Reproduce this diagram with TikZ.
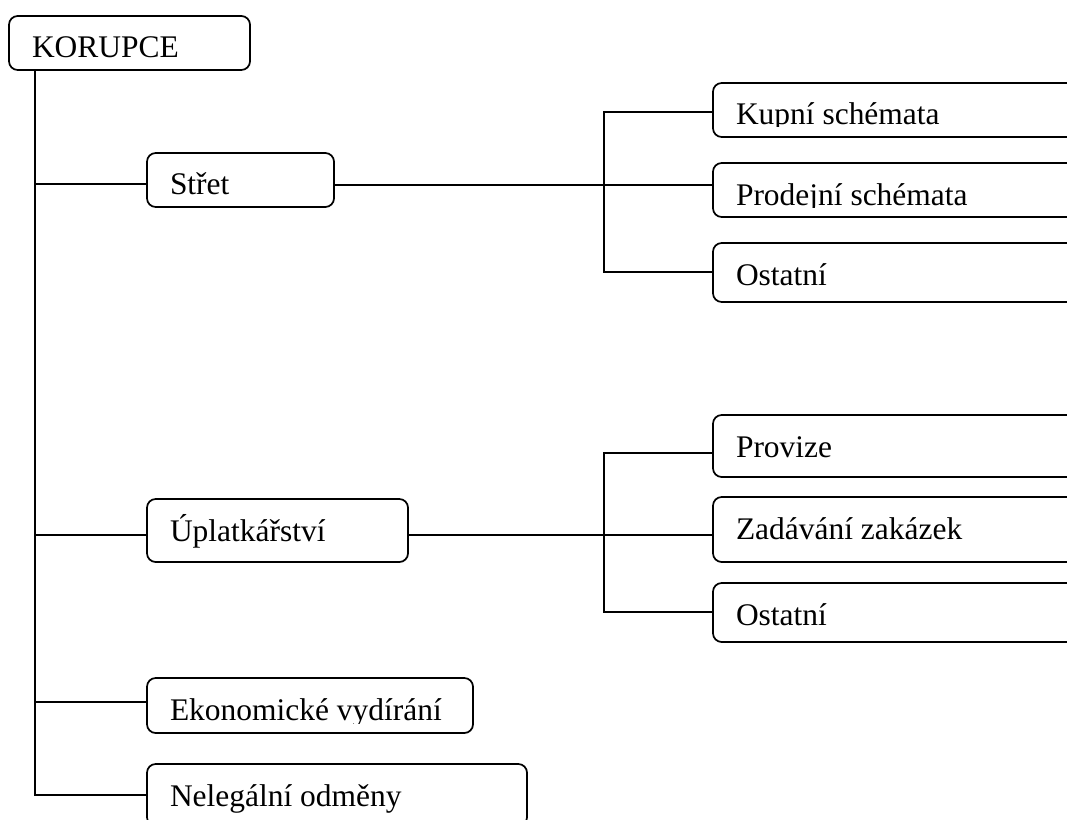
\documentclass[tikz,border=0pt]{standalone}
\usepackage{fontspec}
\setmainfont{Liberation Serif}
\tikzset{
  box/.style={draw, line width=1.3pt, rounded corners=6.5pt, inner sep=0pt, outer sep=0pt},
  txt/.style={anchor=base west, inner sep=0pt, outer sep=0pt, font=\fontsize{23.6}{28}\selectfont},
  conn/.style={line width=1.3pt}
}
\newcommand\bx[5]{\node[box, minimum width={(#4-#2)*0.75pt}, minimum height={(#5-#3)*0.75pt}] (#1) at ({(#2+#4)/2},{(#3+#5)/2}) {};}
\newcommand\boxtext[2]{\begin{scope}\clip (#1.north west) rectangle ([yshift=7.5pt]#1.south east);
  \node[txt] (#1t) at ([xshift=17.25pt,yshift=-31.5pt]#1.north west) {#2};\end{scope}}
\begin{document}
\begin{tikzpicture}[x=0.75pt,y=-0.75pt]
\useasboundingbox (0,0) rectangle (1067,820);
\clip (0,0) rectangle (1067,820);
% boxes
\bx{kor}{9}{16}{250}{70}
\bx{stret}{147}{153}{334}{207}
\bx{upl}{147}{499}{408}{562}
\bx{eko}{147}{678}{473}{733}
\bx{nel}{147}{764}{527}{826}
\bx{kupni}{713}{83}{1100}{137}
\bx{prod}{713}{163}{1100}{217}
\bx{osta}{713}{243}{1100}{302}
\bx{prov}{713}{415}{1100}{477}
\bx{zad}{713}{497}{1100}{562}
\bx{ostb}{713}{583}{1100}{642}
% texts
\boxtext{kor}{KORUPCE}
\boxtext{stret}{Střet}
\boxtext{upl}{Úplatkářství}
\boxtext{eko}{Ekonomické vydírání}
\boxtext{nel}{Nelegální odměny}
\boxtext{kupni}{Kupní schémata}
\boxtext{prod}{Prodejní schémata}
\boxtext{osta}{Ostatní}
\boxtext{prov}{Provize}
\boxtext{zad}{Zadávání zakázek}
\boxtext{ostb}{Ostatní}
% trunk
\coordinate (tr) at (35,70);
\coordinate (r1) at (35,184);
\coordinate (r2) at (35,535);
\coordinate (r3) at (35,702);
\coordinate (r4) at (35,795);
\draw[conn] (tr) -- (r4) -- (nel.west |- r4);
\draw[conn] (r1) -- (stret.west |- r1);
\draw[conn] (r2) -- (upl.west |- r2);
\draw[conn] (r3) -- (eko.west |- r3);
% upper right group
\coordinate (ja) at (604,112);
\coordinate (jb) at (604,185);
\coordinate (jc) at (604,272);
\draw[conn] (stret.east |- jb) -- (prod.west |- jb);
\draw[conn] (kupni.west |- ja) -- (ja) -- (jc) -- (osta.west |- jc);
% lower right group
\coordinate (ka) at (604,453);
\coordinate (kb) at (604,535);
\coordinate (kc) at (604,612);
\draw[conn] (upl.east |- kb) -- (zad.west |- kb);
\draw[conn] (prov.west |- ka) -- (ka) -- (kc) -- (ostb.west |- kc);
\end{tikzpicture}
\end{document}
